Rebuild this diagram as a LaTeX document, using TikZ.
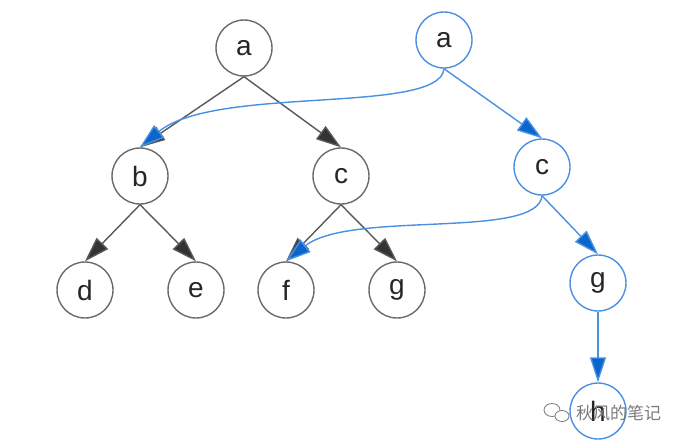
\documentclass[tikz,border=0pt]{standalone}
\usepackage{fontspec}
\setmainfont{Liberation Sans}
\newfontfamily\cjk{Noto Sans CJK SC}
\usetikzlibrary{arrows.meta}
\definecolor{txt}{HTML}{262626}
\definecolor{grayline}{HTML}{6A6A6A}
\definecolor{grayedge}{HTML}{585858}
\definecolor{grayhead}{HTML}{333333}
\definecolor{blueline}{HTML}{4A90E2}
\definecolor{bluehead}{HTML}{0B66CC}
\definecolor{wm}{HTML}{7A7A7A}
\tikzset{
  tn/.style={circle, draw=grayline, line width=1.4pt, minimum size=56pt, inner sep=0pt,
    text=txt, font=\fontsize{28}{30}\selectfont},
  bn/.style={tn, draw=blueline},
  ge/.style={draw=grayedge, line width=1.4pt, -{Triangle[length=25pt,width=16pt,fill=grayhead]}},
  be/.style={draw=blueline, line width=1.4pt, -{Triangle[length=25pt,width=16pt,fill=bluehead]}},
}
\begin{document}
\begin{tikzpicture}[x=1pt,y=-1pt]
\useasboundingbox (0,0) rectangle (684,444);
% left tree
\node[tn] (a) at (244,48) {a};
\node[tn] (b) at (140,176) {b};
\node[tn] (c) at (341,176) {c};
\node[tn] (d) at (85,290) {d};
\node[tn] (e) at (196,290) {e};
\node[tn] (f) at (286,290) {f};
\node[tn] (g) at (397,290) {g};
% right tree
\node[bn] (A) at (444,40) {a};
\node[bn] (C) at (542,167) {c};
\node[bn] (G) at (598,283) {g};
\node[bn] (H) at (598,411) {h};
% gray edges
\draw[ge] (a.south) -- (b.north);
\draw[ge] (a.south) -- (c.north);
\draw[ge] (b.south) -- (d.north);
\draw[ge] (b.south) -- (e.north);
\draw[ge] (c.south) -- (f.north);
\draw[ge] (c.south) -- (g.north);
% blue edges
\draw[be] (A.south) -- (C.north);
\draw[be] (C.south) -- (G.north);
\draw[be] (G.south) -- (H.north);
\draw[be] (A.south) .. controls (440,115) and (215,85) .. (b.north);
\draw[be] (C.south) .. controls (538,240) and (350,210) .. (f.north);
% watermark
\node[inner sep=0pt, anchor=west, text=wm, font=\cjk\fontsize{17}{17}\selectfont] (wmt) at (576,413) {秋风的笔记};
\draw[wm, line width=0.8pt] (552,410) ellipse (8pt and 6.5pt);
\draw[wm, line width=0.8pt, fill=white] (562,416) ellipse (7pt and 5.5pt);
\end{tikzpicture}
\end{document}
